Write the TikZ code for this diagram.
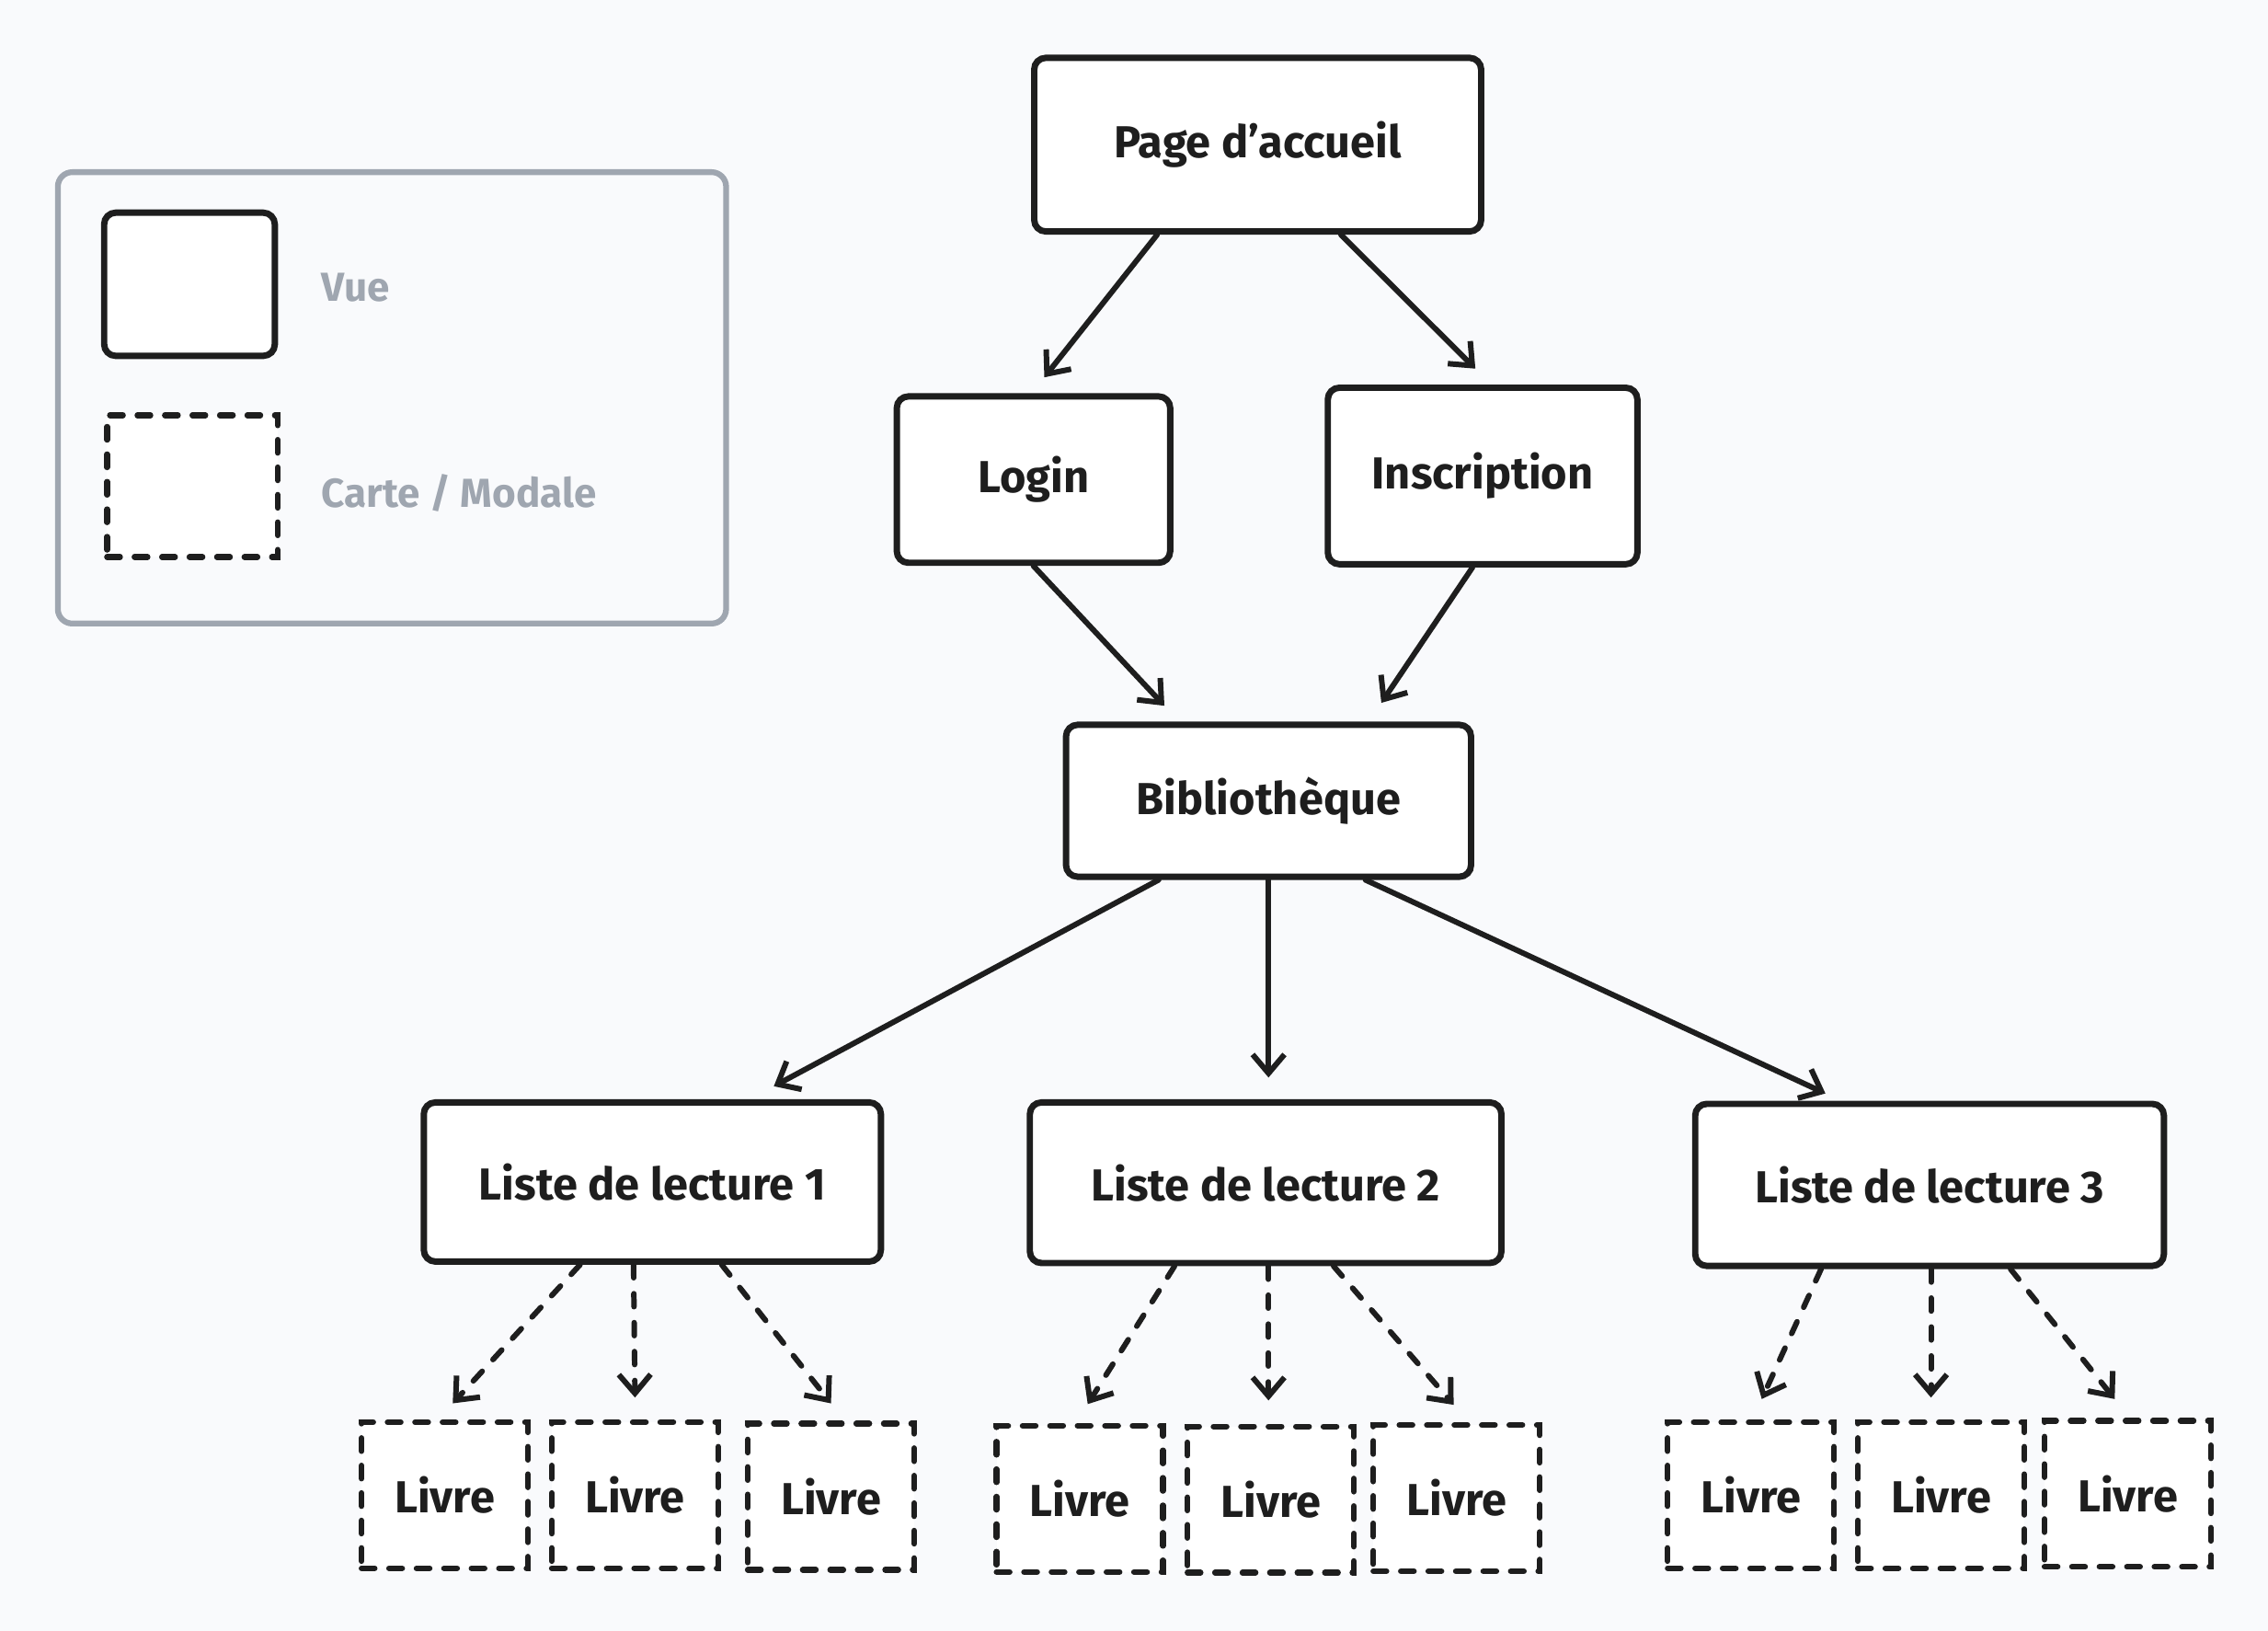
\documentclass[tikz,border=0pt]{standalone}
\usepackage{fontspec}
\setmainfont{Fira Sans}
\usetikzlibrary{arrows.meta}
\definecolor{ink}{HTML}{1E1E1E}
\definecolor{legendgray}{HTML}{9FA6B0}
\definecolor{bg}{HTML}{F9FAFC}
\tikzset{
  vue/.style={draw=ink, line width=2.2pt, rounded corners=4pt, fill=white, inner sep=0pt,
    font=\fontsize{15.5}{18}\selectfont\bfseries, text=ink},
  carte/.style={draw=ink, line width=2pt, fill=white, inner sep=0pt,
    dash pattern=on 4.5pt off 5pt, line cap=round,
    font=\fontsize{15.5}{18}\selectfont\bfseries, text=ink},
  livre/.style={carte, minimum width=57.5pt, minimum height=50.5pt},
  arr/.style={draw=ink, line width=1.9pt, line cap=round,
    -{Straight Barb[length=6.5pt,width=11pt,line width=1.9pt]}},
  darr/.style={arr, dash pattern=on 4.5pt off 5.5pt},
  legendtext/.style={text=legendgray, anchor=west, inner sep=0pt,
    font=\fontsize{14}{16}\selectfont\bfseries},
}
\begin{document}
\begin{tikzpicture}[x=0.5pt,y=-0.5pt]
\fill[bg] (0,0) rectangle (1568,1127.3);
\useasboundingbox (0,0) rectangle (1568,1127.3);

% legend
\draw[legendgray, line width=2pt, rounded corners=5pt] (40,119) rectangle (502,431);
\node[vue, minimum width=59pt, minimum height=49.5pt] (legvue) at (131,196.5) {};
\node[carte, minimum width=59pt, minimum height=49pt] (legcarte) at (133,336) {};
\node[legendtext] (legvuetext) at (222,199) {Vue};
\node[legendtext] (legcartetext) at (222,341) {Carte / Modale};

% main nodes
\node[vue, minimum width=154.5pt, minimum height=60pt] (page) at (869.5,100) {Page d'accueil};
\node[vue, minimum width=94.5pt, minimum height=57.5pt] (login) at (714.5,331.5) {Login};
\node[vue, minimum width=107pt, minimum height=61pt] (insc) at (1025,329) {Inscription};
\node[vue, minimum width=140pt, minimum height=52.5pt] (biblio) at (877,553.5) {Bibliothèque};
\node[vue, minimum width=158pt, minimum height=55pt] (l1) at (451,817) {Liste de lecture 1};
\node[vue, minimum width=163pt, minimum height=55.5pt] (l2) at (875,817.5) {Liste de lecture 2};
\node[vue, minimum width=162pt, minimum height=56pt] (l3) at (1334,819) {Liste de lecture 3};

\node[livre] (b11) at (307.5,1033.5) {Livre};
\node[livre] (b12) at (439,1033.5) {Livre};
\node[livre] (b13) at (574.5,1034.5) {Livre};
\node[livre] (b21) at (746.5,1036) {Livre};
\node[livre] (b22) at (878.5,1036.5) {Livre};
\node[livre] (b23) at (1007,1035.5) {Livre};
\node[livre] (b31) at (1210.5,1033.5) {Livre};
\node[livre] (b32) at (1342,1033.5) {Livre};
\node[livre] (b33) at (1471,1032.5) {Livre};

% connectors
\draw[arr] ([xshift=-34.75pt]page.south) -- ([xshift=3.75pt,yshift=5.5pt]login.north);
\draw[arr] ([xshift=28.75pt]page.south) -- ([xshift=-2.5pt,yshift=5.5pt]insc.north);
\draw[arr] (login.south) -- ([xshift=-36pt,yshift=5.5pt]biblio.north);
\draw[arr] ([xshift=-3.5pt]insc.south) -- ([xshift=39pt,yshift=6.5pt]biblio.north);
\draw[arr] ([xshift=-38pt]biblio.south) -- ([xshift=42pt,yshift=4.5pt]l1.north);
\draw[arr] (biblio.south) -- ([xshift=1pt,yshift=7.5pt]l2.north);
\draw[arr] ([xshift=33.5pt]biblio.south) -- ([xshift=-36pt,yshift=2.5pt]l3.north);

\draw[darr] ([xshift=-25pt]l1.south) -- ([xshift=2.75pt,yshift=5.5pt]b11.north);
\draw[darr] ([xshift=-6.5pt]l1.south) -- ([yshift=7.5pt]b12.north);
\draw[darr] ([xshift=24pt]l1.south) -- ([yshift=6pt]b13.north);
\draw[darr] ([xshift=-31.5pt]l2.south) -- ([xshift=2.75pt,yshift=6.5pt]b21.north);
\draw[darr] ([xshift=1pt]l2.south) -- ([xshift=-0.75pt,yshift=8pt]b22.north);
\draw[darr] ([xshift=23.5pt]l2.south) -- ([xshift=-1pt,yshift=6pt]b23.north);
\draw[darr] ([xshift=-37.5pt]l3.south) -- ([xshift=3.75pt,yshift=7pt]b31.north);
\draw[darr] ([xshift=0.5pt]l3.south) -- ([xshift=-3.5pt,yshift=7.5pt]b32.north);
\draw[darr] ([xshift=28pt]l3.south) -- ([xshift=-4.5pt,yshift=6.5pt]b33.north);
\end{tikzpicture}
\end{document}
